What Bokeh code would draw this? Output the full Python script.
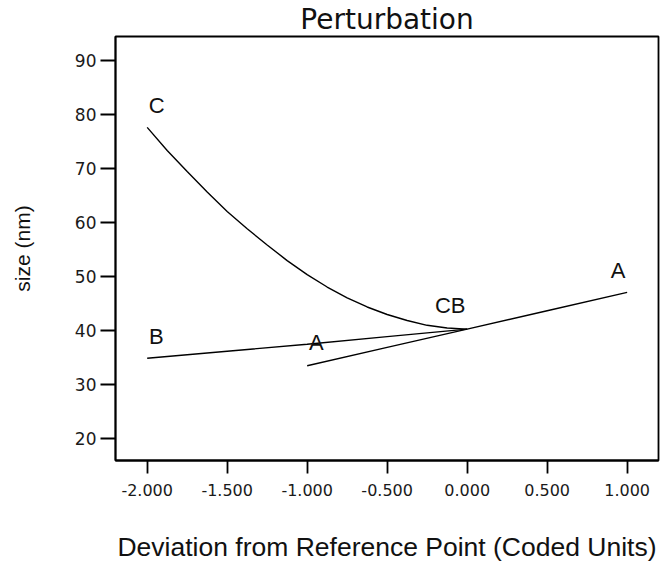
from bokeh.plotting import figure
from bokeh.models import Range1d, FixedTicker, ColumnDataSource
from bokeh.core.properties import value
from bokeh.embed import file_html
from bokeh.resources import INLINE

# ---- data ----
c_x = [-2.0, -1.875, -1.75, -1.625, -1.5, -1.375, -1.25, -1.125, -1.0,
       -0.875, -0.75, -0.625, -0.5, -0.375, -0.25, -0.125, 0.0]
c_y = [77.6, 73.3, 69.4, 65.6, 62.0, 58.8, 55.8, 52.9, 50.3,
       48.0, 46.0, 44.3, 42.9, 41.8, 40.9, 40.4, 40.2]

b_x = [-2.0, -1.5, -1.0, -0.5, 0.0]
b_y = [34.8, 36.1, 37.4, 38.8, 40.2]

a_x = [-1.0, -0.5, 0.0, 0.5, 1.0]
a_y = [33.4, 36.8, 40.2, 43.6, 47.0]

label_text = ["C", "B", "A", "CB", "A"]
label_x = [-1.94, -1.943, -0.943, -0.106, 0.944]
label_y = [81.6, 38.8, 37.7, 44.5, 51.0]

x_ticks = [-2.0, -1.5, -1.0, -0.5, 0.0, 0.5, 1.0]
x_tick_labels = ["-2.000", "-1.500", "-1.000", "-0.500", "0.000", "0.500", "1.000"]
y_ticks = [20, 30, 40, 50, 60, 70, 80, 90]

title_text = "Perturbation"
x_title = "Deviation from Reference Point (Coded Units)"
y_title = "size (nm)"

XMIN, XMAX = -2.198, 1.196
YMIN, YMAX = 15.84, 94.44

p = figure(width=660, height=567, output_backend="svg", toolbar_location=None,
           x_range=Range1d(XMIN, XMAX), y_range=Range1d(YMIN, YMAX),
           min_border_left=115, min_border_right=2, min_border_top=35,
           min_border_bottom=107, title=title_text)
p.background_fill_color = "white"
p.border_fill_color = "white"
p.outline_line_color = "black"
p.outline_line_width = 1.8
p.grid.visible = False

p.title.align = "center"
p.title.text_font = "DejaVu Sans"
p.title.text_font_size = "28px"
p.title.text_font_style = "normal"
p.title.text_color = "#111111"
p.title.standoff = 1

for ax in (p.xaxis[0], p.yaxis[0]):
    ax.axis_line_color = "black"
    ax.axis_line_width = 1.8
    ax.major_tick_line_color = "black"
    ax.major_tick_line_width = 1.8
    ax.minor_tick_line_color = None
    ax.major_tick_in = 0
    ax.major_label_text_font = "DejaVu Sans"
    ax.major_label_text_font_size = "16px"
    ax.major_label_text_color = "#1a1a1a"
    ax.axis_label_text_font_style = "normal"
    ax.axis_label_text_color = "#111111"
    ax.axis_label_text_font = "Liberation Sans"

p.xaxis.ticker = FixedTicker(ticks=x_ticks)
p.xaxis.major_label_overrides = {t: s for t, s in zip(x_ticks, x_tick_labels)}
p.xaxis.major_tick_out = 13
p.xaxis.major_label_standoff = 10
p.xaxis.axis_label = x_title
p.xaxis.axis_label_text_font_size = "26.5px"
p.xaxis.axis_label_standoff = 33

p.yaxis.ticker = FixedTicker(ticks=y_ticks)
p.yaxis.major_tick_out = 15
p.yaxis.major_label_standoff = 4
p.yaxis.major_label_text_font_size = "17px"
p.yaxis.axis_label = y_title
p.yaxis.axis_label_text_font_size = "21px"
p.yaxis.axis_label_standoff = 38

p.line(c_x, c_y, line_color="black", line_width=1.4)
p.line(b_x, b_y, line_color="black", line_width=1.4)
p.line(a_x, a_y, line_color="black", line_width=1.4)

src = ColumnDataSource(dict(x=label_x, y=label_y, t=label_text))
p.text(x="x", y="y", text="t", source=src, text_font=value("Liberation Sans"),
       text_font_size="22px", text_align="center", text_baseline="middle",
       text_color="#111111")

open("out.html", "w").write(file_html(p, INLINE))
